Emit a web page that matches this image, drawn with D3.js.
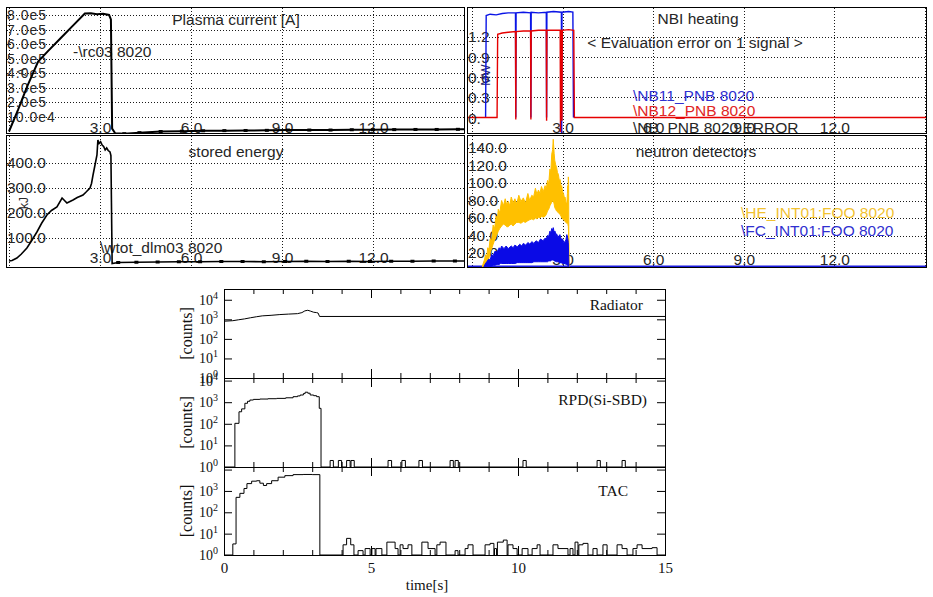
<!DOCTYPE html>
<html>
<head>
<meta charset="utf-8">
<script src="https://cdn.jsdelivr.net/npm/d3@7/dist/d3.min.js"></script>
<style>
body { margin:0; background:#fff; }
svg { display:block; }
</style>
</head>
<body>
<svg id="chart" width="933" height="597"></svg>
<script>
// ================= DATA =================
const gridTimes = [0, 3, 6, 9, 12, 15];
const timeLabelTicks = [3, 6, 9, 12];

// Plasma current [A]
const ipTicks = [800000, 700000, 600000, 500000, 400000, 300000, 200000, 100000];
const ipTickLabels = ["8.0e5", "7.0e5", "6.0e5", "5.0e5", "4.0e5", "3.0e5", "2.0e5", "10.0e4"];
const plasmaCurrent = [
  [0, 0], [0.3, 150000], [0.6, 310000], [0.96, 480000], [1.3, 555000], [1.7, 640000],
  [2.1, 725000], [2.5, 810000], [2.7, 812000], [2.9, 806000], [3.1, 808000], [3.3, 800000],
  [3.36, 770000], [3.4, 20000], [3.5, -12000], [3.8, -15000], [4.3, -8000], [5.0, 0],
  [5.7, 2000], [6.4, 5000], [7.1, 6000], [7.8, 7000], [8.5, 8000], [9.2, 10000], [9.9, 10000],
  [10.6, 10000], [11.3, 12000], [12.0, 12000], [12.7, 13000], [13.4, 14000], [14.1, 14000],
  [14.8, 15000], [15.0, 15000]
];

// Stored energy [kJ]
const weTicks = [400, 300, 200, 100];
const weTickLabels = ["400.0", "300.0", "200.0", "100.0"];
const storedEnergy = [
  [0, 8], [0.1, 10], [0.26, 20], [0.4, 35], [0.59, 60], [0.75, 90], [0.92, 124], [1.08, 160],
  [1.25, 192], [1.4, 210], [1.58, 224], [1.75, 260], [1.91, 240], [2.11, 252], [2.25, 262],
  [2.44, 272], [2.55, 285], [2.67, 300], [2.72, 318], [2.77, 352], [2.84, 395], [2.9, 432],
  [2.93, 492], [2.97, 478], [3.02, 485], [3.07, 472], [3.12, 466], [3.17, 452], [3.22, 460],
  [3.27, 450], [3.33, 444], [3.36, 430], [3.4, -2], [3.6, 2], [4.2, 3], [4.9, 4], [5.6, 5],
  [6.3, 5], [7.0, 6], [7.7, 6], [8.4, 5], [9.1, 6], [9.8, 7], [10.5, 6], [11.2, 7], [11.9, 6],
  [12.6, 7], [13.3, 7], [14.0, 8], [14.7, 8], [15.0, 8]
];

// NBI heating [MW]
const nbTicks = [1.2, 0.9, 0.6, 0.3];
const nbTickLabels = ["1.2", "0.9", "0.6", "0.3"];
const nbZeroLabel = "0.";
const nb11 = [
  [0.45, 0], [0.47, 1.52], [0.6, 1.54], [0.8, 1.53], [1.0, 1.55], [1.2, 1.56], [1.44, 1.56],
  [1.45, 0], [1.46, 1.56], [1.7, 1.57], [1.94, 1.56], [1.95, 0], [1.96, 1.57], [2.2, 1.56],
  [2.46, 1.57], [2.47, 0], [2.48, 1.57], [2.7, 1.58], [2.96, 1.57], [2.97, -0.25], [2.98, 1.57],
  [3.2, 1.58], [3.34, 1.57], [3.36, 0]
];
const nb12 = [
  [-0.2, 0], [0.83, 0], [0.85, 1.24], [1.0, 1.26], [1.2, 1.27], [1.44, 1.28], [1.45, -0.03], [1.46, 1.28],
  [1.7, 1.29], [1.94, 1.29], [1.95, -0.03], [1.96, 1.29], [2.2, 1.3], [2.46, 1.3], [2.47, -0.05],
  [2.48, 1.3], [2.7, 1.3], [2.92, 1.3], [2.93, -0.22], [2.94, 1.3], [2.97, 1.3], [2.98, -0.05],
  [2.99, 1.3], [3.2, 1.31], [3.37, 1.3], [3.39, 0], [15.2, 0]
];

// Neutron detectors: [time, lower envelope, upper envelope]
const fnTicks = [140, 120, 100, 80, 60, 40, 20];
const fnTickLabels = ["140.0", "120.0", "100.0", "80.0", "60.0", "40.0", "20.0"];
const heBand = [
  [0.3, 0, 0], [0.34, 0, 4], [0.37, 1, 8], [0.41, 2, 12], [0.45, 3, 18], [0.49, 6, 16], [0.52, 10, 26],
  [0.56, 14, 24], [0.6, 20, 36], [0.65, 25, 34], [0.7, 30, 52], [0.75, 35, 48], [0.8, 39, 62],
  [0.84, 42, 58], [0.87, 45, 70], [0.92, 48, 66], [0.98, 51, 80], [1.04, 53, 74], [1.1, 52, 82],
  [1.15, 50, 75], [1.2, 50, 79], [1.25, 52, 74], [1.3, 53, 84], [1.36, 51, 77], [1.42, 53, 82],
  [1.48, 55, 76], [1.55, 55, 86], [1.62, 54, 79], [1.7, 56, 83], [1.77, 55, 77], [1.85, 57, 88],
  [1.91, 58, 80], [1.98, 59, 86], [2.04, 58, 84], [2.1, 60, 94], [2.15, 59, 87], [2.2, 61, 92],
  [2.25, 60, 88], [2.3, 62, 96], [2.36, 61, 90], [2.42, 62, 97], [2.46, 64, 93], [2.5, 68, 103],
  [2.54, 70, 99], [2.58, 74, 116], [2.61, 76, 112], [2.64, 78, 133], [2.67, 79, 138], [2.69, 80, 150],
  [2.72, 76, 134], [2.74, 72, 126], [2.77, 70, 121], [2.8, 68, 118], [2.83, 67, 112], [2.86, 66, 110],
  [2.89, 65, 103], [2.92, 64, 104], [2.95, 62, 96], [2.97, 60, 97], [3.0, 59, 90], [3.03, 58, 88],
  [3.06, 57, 83], [3.08, 56, 84], [3.11, 55, 78], [3.14, 54, 76], [3.16, 54, 88], [3.17, 54, 97],
  [3.18, 52, 90], [3.19, 50, 107], [3.2, 40, 100], [3.21, 0, 3]
];
const fcBand = [
  [0.35, 0, 0], [0.39, 0, 4], [0.43, 1, 7], [0.49, 2, 10], [0.55, 3, 13], [0.6, 4, 12], [0.65, 5, 18],
  [0.7, 6, 17], [0.76, 6, 22], [0.83, 7, 21], [0.9, 7, 26], [0.94, 8, 24], [0.98, 8, 28], [1.06, 8, 25],
  [1.13, 8, 28], [1.2, 8, 25], [1.3, 8, 28], [1.36, 8, 26], [1.42, 8, 29], [1.5, 9, 27], [1.58, 9, 30],
  [1.65, 9, 28], [1.7, 9, 31], [1.78, 9, 29], [1.85, 9, 32], [1.92, 9, 30], [1.98, 9, 33], [2.05, 10, 31],
  [2.12, 10, 34], [2.2, 10, 32], [2.27, 10, 36], [2.35, 10, 34], [2.42, 10, 37], [2.46, 10, 36],
  [2.5, 10, 40], [2.54, 11, 39], [2.58, 11, 45], [2.61, 11, 43], [2.64, 12, 48], [2.67, 12, 46],
  [2.69, 12, 49], [2.72, 11, 44], [2.75, 11, 45], [2.78, 10, 40], [2.8, 10, 42], [2.85, 10, 38],
  [2.91, 9, 41], [2.95, 9, 36], [3.0, 8, 36], [3.04, 8, 32], [3.08, 8, 33], [3.11, 7, 35],
  [3.14, 7, 41], [3.17, 6, 37], [3.19, 5, 32], [3.21, 3, 3]
];
const fcBaseline = [[-0.2, 5], [15.2, 5]];

// Lower figure (counts, log scale)
const bottomMajorTicks = [0, 5, 10, 15];
const bottomMinorTicks = [1, 2, 3, 4, 6, 7, 8, 9, 11, 12, 13, 14];
const decadeTicks = [1, 10, 100, 1000, 10000];
const radiator = [
  [0, 800], [0.3, 850], [0.5, 950], [0.7, 1050], [0.9, 1200], [1.1, 1350], [1.3, 1500],
  [1.6, 1600], [1.9, 1750], [2.2, 1850], [2.5, 1950], [2.65, 2200], [2.75, 2700], [2.85, 2900],
  [2.95, 2600], [3.05, 2300], [3.15, 2200], [3.2, 2100], [3.25, 1400], [15, 1400]
];
const rpd = [
  [0, 1], [0.37, 105], [0.51, 360], [0.6, 490], [0.71, 890], [0.8, 1100], [0.88, 1260], [1.0, 1350],
  [1.22, 1400], [1.5, 1450], [1.79, 1500], [2.1, 1600], [2.35, 1800], [2.5, 1950], [2.59, 2150],
  [2.7, 2500], [2.76, 2900], [2.85, 2600], [2.93, 2150], [3.05, 2000], [3.15, 1800], [3.24, 520],
  [3.3, 1], [3.61, 2], [3.72, 1], [3.89, 2], [4.0, 1], [4.17, 2], [4.29, 1], [4.32, 2], [4.43, 1],
  [5.58, 2], [5.7, 1], [6.05, 2], [6.17, 1], [6.63, 2], [6.75, 1], [7.69, 2], [7.8, 1], [7.86, 2],
  [7.97, 1], [10.17, 2], [10.28, 1], [12.69, 2], [12.8, 1], [13.54, 2], [13.65, 1], [15, 1]
];
const tac = [
  [0, 1], [0.3, 3.3], [0.41, 500], [0.54, 770], [0.68, 1300], [0.78, 2200], [0.94, 2860],
  [1.11, 3000], [1.22, 2300], [1.34, 1800], [1.45, 2200], [1.62, 3000], [1.84, 4400],
  [2.07, 5200], [2.35, 5800], [2.69, 5900], [3.0, 5800], [3.26, 1],
  [4.05, 3], [4.17, 6], [4.31, 3], [4.42, 1],
  [4.56, 1.6], [4.73, 1], [4.8, 2], [4.97, 1], [5.03, 2], [5.14, 1], [5.17, 2], [5.37, 1],
  [5.54, 4], [5.82, 2], [5.92, 1], [5.99, 3], [6.09, 2], [6.26, 3], [6.39, 1],
  [6.73, 4], [6.94, 2], [7.18, 1], [7.24, 3], [7.35, 4], [7.55, 1],
  [7.86, 1.6], [7.96, 1], [8.2, 2], [8.3, 3], [8.47, 1],
  [8.88, 3], [9.05, 3.5], [9.18, 1], [9.2, 2], [9.27, 1], [9.3, 4], [9.5, 5], [9.63, 1],
  [9.66, 3], [9.83, 2], [9.97, 1], [10.14, 2], [10.34, 1], [10.48, 2], [10.65, 3], [10.75, 1],
  [11.19, 3], [11.36, 2], [11.7, 1], [11.77, 2], [11.87, 1], [11.94, 4], [12.04, 1], [12.07, 3],
  [12.21, 3.5], [12.38, 1], [12.55, 2], [12.69, 1], [12.89, 3], [13.03, 1], [13.37, 3],
  [13.54, 2], [13.71, 1], [13.91, 2], [14.05, 3], [14.22, 2], [14.56, 2.2], [14.73, 1], [15, 1]
];

// ================= DRAWING =================
const svg = d3.select("#chart");
const SANS = "Arial, 'Liberation Sans', sans-serif";
const SERIF = "'Times New Roman', 'Liberation Serif', serif";
const TXT = "#262626";
const FS = 15.5;

function topPanel(cfg) {
  const { id, left, right, top, bottom } = cfg;
  const x = d3.scaleLinear().domain([0, 15]).range(cfg.xRange);
  const y = d3.scaleLinear().domain(cfg.yDomain).range(cfg.yRange);
  const g = svg.append("g");
  svg.append("defs").append("clipPath").attr("id", "clip-" + id).append("rect")
    .attr("x", left).attr("y", top).attr("width", right - left).attr("height", bottom - top);

  // dotted grid (explicit lines from the scales)
  const grid = g.append("g").attr("stroke", "#1a1a1a").attr("stroke-width", 1)
    .attr("stroke-dasharray", "1 2").attr("fill", "none");
  grid.selectAll("line.v").data(gridTimes).join("line")
    .attr("x1", d => Math.round(x(d)) + 0.5).attr("x2", d => Math.round(x(d)) + 0.5)
    .attr("y1", top + 1).attr("y2", bottom - 1);
  grid.selectAll("line.h").data(cfg.yTicks).join("line")
    .attr("x1", left + 1).attr("x2", right - 1)
    .attr("y1", d => Math.round(y(d)) + 0.5).attr("y2", d => Math.round(y(d)) + 0.5);

  // y labels
  g.append("g").attr("transform", `translate(${left + 1},0)`)
    .call(d3.axisRight(y).tickValues(cfg.yTicks).tickSize(0).tickPadding(0)
      .tickFormat((d, i) => cfg.yLabels[i]))
    .call(a => a.select(".domain").remove())
    .call(a => a.selectAll("text").attr("font-size", cfg.yFont || FS).attr("fill", TXT)
      .attr("font-family", SANS).attr("letter-spacing", cfg.yLetter || 0));

  // x labels
  g.append("g").attr("transform", `translate(0,${bottom - cfg.xLabelLift})`)
    .call(d3.axisTop(x).tickValues(timeLabelTicks).tickSize(0).tickPadding(0)
      .tickFormat(d3.format(".1f")))
    .call(a => a.select(".domain").remove())
    .call(a => a.selectAll("text").attr("font-size", FS).attr("fill", TXT).attr("font-family", SANS));

  // texts
  cfg.texts.forEach(t => {
    const el = g.append("text").attr("x", t.x).attr("y", t.y).attr("dy", "0.35em")
      .attr("font-family", SANS).attr("font-size", t.size || FS)
      .attr("fill", t.color || TXT).attr("text-anchor", t.anchor || "start")
      .text(t.text);
    if (t.rotate) el.attr("transform", `rotate(-90,${t.x},${t.y})`).attr("text-anchor", "middle");
  });

  const dg = g.append("g").attr("clip-path", `url(#clip-${id})`);
  cfg.draw(dg, x, y);

  // frame
  g.append("rect").attr("x", left + 0.5).attr("y", top + 0.5)
    .attr("width", right - left - 1).attr("height", bottom - top - 1)
    .attr("fill", "none").attr("stroke", "#000").attr("stroke-width", 1);
  return { x, y };
}

function lineOf(x, y) {
  return d3.line().x(d => x(d[0])).y(d => y(d[1]));
}

// --- Plasma current
topPanel({
  id: "ip", left: 6, right: 465, top: 7, bottom: 134,
  xRange: [9, 464], yDomain: [0, 800000], yRange: [131.5, 15],
  yTicks: ipTicks, yLabels: ipTickLabels, xLabelLift: 1, yFont: 14, yLetter: 1,
  texts: [
    { text: "Plasma current [A]", x: 236, y: 20, anchor: "middle" },
    { text: "-\\rc03 8020", x: 73, y: 52 },
    { text: "A", x: 22, y: 72, size: 12, rotate: true }
  ],
  draw: (g, x, y) => {
    g.append("path").datum(plasmaCurrent).attr("d", lineOf(x, y))
      .attr("fill", "none").attr("stroke", "#000").attr("stroke-width", 2);
    g.selectAll("rect.m").data(plasmaCurrent.filter(d => d[0] > 3.6 && d[0] < 15))
      .join("rect").attr("x", d => x(d[0]) - 2).attr("y", d => y(d[1]) - 1.5)
      .attr("width", 4).attr("height", 3).attr("fill", "#000");
  }
});

// --- Stored energy
topPanel({
  id: "we", left: 6, right: 465, top: 135, bottom: 268,
  xRange: [9, 464], yDomain: [0, 400], yRange: [263, 163],
  yTicks: weTicks, yLabels: weTickLabels, xLabelLift: 5,
  texts: [
    { text: "stored energy", x: 236, y: 152, anchor: "middle" },
    { text: "\\wtot_dlm03 8020", x: 100, y: 248 },
    { text: "kJ", x: 24, y: 203, size: 12, rotate: true }
  ],
  draw: (g, x, y) => {
    g.append("path").datum(storedEnergy).attr("d", lineOf(x, y))
      .attr("fill", "none").attr("stroke", "#000").attr("stroke-width", 1.6);
    g.selectAll("rect.m").data(storedEnergy.filter(d => d[0] > 3.5 && d[0] < 15))
      .join("rect").attr("x", d => x(d[0]) - 2).attr("y", d => y(d[1]) - 1.5)
      .attr("width", 4).attr("height", 3).attr("fill", "#000");
  }
});

// --- NBI heating
const nbScales = topPanel({
  id: "nb", left: 467, right: 927, top: 7, bottom: 134,
  xRange: [472, 925], yDomain: [0, 1.2], yRange: [117.5, 37],
  yTicks: nbTicks, yLabels: nbTickLabels, xLabelLift: 1,
  texts: [
    { text: "NBI heating", x: 698, y: 19, anchor: "middle" },
    { text: "< Evaluation error on 1 signal >", x: 695, y: 43, anchor: "middle" },
    { text: "MW", x: 486, y: 75, size: 12, rotate: true, color: "#22226a" },
    { text: "\\NB11_PNB 8020", x: 633, y: 96, color: "#3030d0" },
    { text: "\\NB12_PNB 8020", x: 633, y: 111, color: "#e02525" },
    { text: "\\NB_PNB 8020 ERROR", x: 633, y: 128 }
  ],
  draw: (g, x, y) => {
    g.append("path").datum(nb11).attr("d", lineOf(x, y))
      .attr("fill", "none").attr("stroke", "#0a14e6").attr("stroke-width", 1.4);
    g.append("path").datum(nb12).attr("d", lineOf(x, y))
      .attr("fill", "none").attr("stroke", "#e60000").attr("stroke-width", 1.4);
  }
});
svg.append("text").attr("x", 468).attr("y", nbScales.y(0) + 1).attr("dy", "0.35em")
  .attr("font-family", SANS).attr("font-size", FS).attr("fill", TXT).text(nbZeroLabel);

// --- Neutron detectors
topPanel({
  id: "fn", left: 467, right: 927, top: 135, bottom: 268,
  xRange: [472, 925], yDomain: [0, 140], yRange: [270.5, 148],
  yTicks: fnTicks, yLabels: fnTickLabels, xLabelLift: 3,
  texts: [
    { text: "neutron detectors", x: 696, y: 152, anchor: "middle" },
    { text: "\\HE_INT01:FOO 8020", x: 741, y: 213, color: "#f2c232" },
    { text: "\\FC_INT01:FOO 8020", x: 741, y: 231, color: "#3030d0" }
  ],
  draw: (g, x, y) => {
    const area = d3.area().x(d => x(d[0])).y0(d => y(d[1])).y1(d => y(d[2]));
    g.append("path").datum(fcBaseline).attr("d", lineOf(x, y))
      .attr("fill", "none").attr("stroke", "#1a1ae0").attr("stroke-width", 1.5);
    g.append("path").datum(heBand).attr("d", area)
      .attr("fill", "#ffc000").attr("stroke", "#ffc000").attr("stroke-width", 1);
    g.append("path").datum(fcBand).attr("d", area)
      .attr("fill", "#0a0ae6").attr("stroke", "#0a0ae6").attr("stroke-width", 1);
  }
});

// ================= LOWER FIGURE =================
const bx = d3.scaleLinear().domain([0, 15]).range([224, 665]);
const lower = [
  { id: "rad", top: 289, bottom: 378, yMax: Math.pow(10, 4.55), data: radiator, step: false,
    title: "Radiator", tx: 643, ty: 305, exps: [0, 1, 2, 3, 4] },
  { id: "rpd", top: 378, bottom: 467, yMax: Math.pow(10, 4.12), data: rpd, step: true,
    title: "RPD(Si-SBD)", tx: 647, ty: 400, exps: [0, 1, 2, 3, 4] },
  { id: "tac", top: 467, bottom: 555, yMax: Math.pow(10, 4.12), data: tac, step: true,
    title: "TAC", tx: 628, ty: 491, exps: [0, 1, 2, 3] }
];

lower.forEach(p => {
  const y = d3.scaleLog().domain([1, p.yMax]).range([p.bottom, p.top]);
  const g = svg.append("g");
  const line = d3.line().x(d => bx(d[0])).y(d => y(d[1]))
    .curve(p.step ? d3.curveStepAfter : d3.curveLinear);
  g.append("path").datum(p.data).attr("d", line)
    .attr("fill", "none").attr("stroke", "#000").attr("stroke-width", 1);

  const styleTicks = a => { a.select(".domain").remove(); a.selectAll("line").attr("stroke", "#000"); };
  const dec = decadeTicks.filter(v => v <= p.yMax);
  g.append("g").attr("transform", "translate(224,0)")
    .call(d3.axisLeft(y).tickValues(dec).tickSize(-8).tickFormat("")).call(styleTicks);
  g.append("g").attr("transform", "translate(665,0)")
    .call(d3.axisRight(y).tickValues(dec).tickSize(-8).tickFormat("")).call(styleTicks);
  g.append("g").attr("transform", `translate(0,${p.top})`)
    .call(d3.axisTop(bx).tickValues(bottomMinorTicks).tickSize(-5).tickFormat("")).call(styleTicks);
  g.append("g").attr("transform", `translate(0,${p.top})`)
    .call(d3.axisTop(bx).tickValues(bottomMajorTicks).tickSize(-9).tickFormat("")).call(styleTicks);
  g.append("g").attr("transform", `translate(0,${p.bottom})`)
    .call(d3.axisBottom(bx).tickValues(bottomMinorTicks).tickSize(-5).tickFormat("")).call(styleTicks);
  g.append("g").attr("transform", `translate(0,${p.bottom})`)
    .call(d3.axisBottom(bx).tickValues(bottomMajorTicks).tickSize(-9).tickFormat("")).call(styleTicks);

  // frame
  g.append("rect").attr("x", 224.5).attr("y", p.top + 0.5)
    .attr("width", 441).attr("height", p.bottom - p.top)
    .attr("fill", "none").attr("stroke", "#000").attr("stroke-width", 1);

  // decade labels
  p.exps.forEach(e => {
    const t = g.append("text").attr("x", 218).attr("y", y(Math.pow(10, e)) + 5)
      .attr("text-anchor", "end").attr("font-family", SERIF).attr("font-size", 14).attr("fill", "#111");
    t.append("tspan").text("10");
    t.append("tspan").attr("dy", -6).attr("font-size", 10).text(String(e));
  });

  // y label
  const my = (p.top + p.bottom) / 2;
  g.append("text").attr("x", 186).attr("y", my)
    .attr("transform", `rotate(-90,186,${my})`).attr("text-anchor", "middle").attr("dy", "0.35em")
    .attr("font-family", SERIF).attr("font-size", 16).attr("fill", "#111").text("[counts]");

  // title
  g.append("text").attr("x", p.tx).attr("y", p.ty).attr("dy", "0.35em").attr("text-anchor", "end")
    .attr("font-family", SERIF).attr("font-size", 15.5).attr("fill", "#111").text(p.title);
});

// x tick labels and title
svg.append("g").attr("transform", "translate(0,555)")
  .call(d3.axisBottom(bx).tickValues(bottomMajorTicks).tickSize(0).tickPadding(7).tickFormat(d3.format("d")))
  .call(a => a.select(".domain").remove())
  .call(a => a.selectAll("text").attr("font-family", SERIF).attr("font-size", 15).attr("fill", "#111"));
svg.append("text").attr("x", 427).attr("y", 590).attr("text-anchor", "middle")
  .attr("font-family", SERIF).attr("font-size", 15).attr("fill", "#111").text("time[s]");
</script>
</body>
</html>
